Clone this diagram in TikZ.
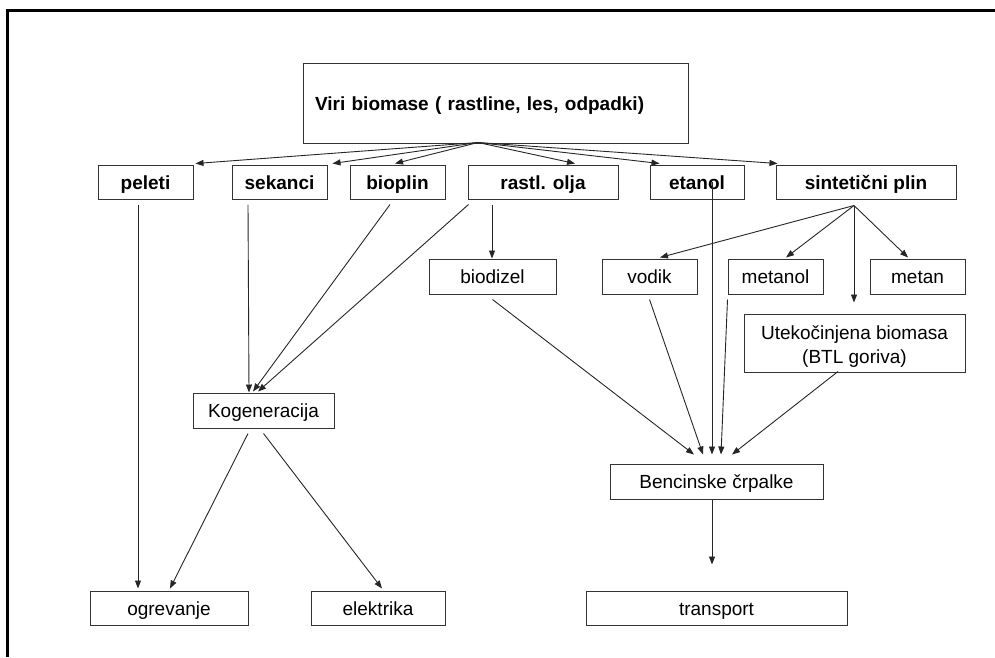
\documentclass[tikz,border=0pt]{standalone}
\usepackage{fontspec}
\setmainfont{Liberation Sans}
\usetikzlibrary{arrows.meta}
\begin{document}
\begin{tikzpicture}[x=1pt,y=-1pt,
  box/.style={draw=black!80,line width=1pt,inner sep=0pt,text height=14pt,text depth=0pt,font=\fontsize{19}{22}\selectfont},
  bbox/.style={box,font=\fontsize{19}{22}\selectfont\bfseries},
  conn/.style={draw=black!85,line width=0.9pt,-{Triangle[length=8pt,width=6pt]}}]
\useasboundingbox (0,0) rectangle (995,657);
% frame
\draw[line width=3pt] (7,657) -- (7,10) -- (995,10);
% nodes
\node[bbox,minimum width=385,minimum height=80,text width=361,align=left] (top) at (495.5,103) {Viri biomase ( rastline, les, odpadki)};
\node[bbox,minimum width=95,minimum height=34] (peleti) at (145.5,182) {peleti};
\node[bbox,minimum width=95,minimum height=34] (sekanci) at (279.5,182) {sekanci};
\node[bbox,minimum width=95,minimum height=34] (bioplin) at (397.5,182) {bioplin};
\node[bbox,minimum width=150,minimum height=34] (rastl) at (543,182) {rastl. olja};
\node[bbox,minimum width=94,minimum height=34] (etanol) at (697,182) {etanol};
\node[bbox,minimum width=180,minimum height=34] (sint) at (866,182) {sintetični plin};
\node[box,minimum width=127,minimum height=35] (biodizel) at (492.5,276.5) {biodizel};
\node[box,minimum width=95,minimum height=35] (vodik) at (649.5,276.5) {vodik};
\node[box,minimum width=95,minimum height=35] (metanol) at (775.5,276.5) {metanol};
\node[box,minimum width=95,minimum height=35] (metan) at (917.5,276.5) {metan};
\node[box,minimum width=221,minimum height=58,align=center,text height=40pt,text depth=0pt] (utek) at (854.5,343) {Utekočinjena biomasa\\[2pt](BTL goriva)};
\node[box,minimum width=141,minimum height=35] (kog) at (263.5,410.5) {Kogeneracija};
\node[box,minimum width=213,minimum height=35] (benc) at (716.5,481.5) {Bencinske črpalke};
\node[box,minimum width=158,minimum height=34] (ogr) at (169,608) {ogrevanje};
\node[box,minimum width=134,minimum height=34] (elek) at (378,608) {elektrika};
\node[box,minimum width=261,minimum height=34] (transport) at (716.5,608) {transport};
% connectors from the top box
\draw[conn] ([xshift=-17.5pt,yshift=1pt]top.south) -- ([xshift=2pt,yshift=1pt]peleti.north east);
\draw[conn] ([xshift=-17.5pt,yshift=1pt]top.south) -- ([xshift=5pt,yshift=1pt]sekanci.north east);
\draw[conn] ([xshift=-17.5pt,yshift=1pt]top.south) -- ([xshift=-2.5pt,yshift=1pt]bioplin.north);
\draw[conn] ([xshift=-17.5pt,yshift=1pt]top.south) -- ([xshift=32pt,yshift=1pt]rastl.north);
\draw[conn] ([xshift=-17.5pt,yshift=1pt]top.south) -- ([xshift=10pt,yshift=1pt]etanol.north west);
\draw[conn] ([xshift=-17.5pt,yshift=1pt]top.south) -- ([xshift=2pt,yshift=1pt]sint.north west);
% left part
\draw[conn] ([xshift=-7.5pt,yshift=-5pt]peleti.south) -- ([xshift=-31pt,yshift=2pt]ogr.north);
\draw[conn] ([xshift=-31.5pt,yshift=-5pt]sekanci.south) -- ([xshift=-14.5pt,yshift=0pt]kog.north);
\draw[conn] ([xshift=-7.5pt,yshift=-5pt]bioplin.south) -- ([xshift=-10.5pt,yshift=1pt]kog.north);
\draw[conn] ([xshift=1pt,yshift=-5pt]rastl.south west) -- ([xshift=-5.5pt,yshift=1pt]kog.north);
\draw[conn] ([xshift=-51pt,yshift=-5pt]rastl.south) -- ([xshift=-0.5pt]biodizel.north);
\draw[conn] ([xshift=-15.5pt,yshift=-5pt]kog.south) -- ([xshift=1pt,yshift=2pt]ogr.north);
\draw[conn] ([yshift=-5pt]kog.south) -- ([xshift=4pt,yshift=2pt]elek.north);
% synthetic gas
\draw[conn] ([xshift=-12pt,yshift=-6pt]sint.south) -- ([xshift=10.5pt,yshift=1pt]vodik.north);
\draw[conn] ([xshift=-12pt,yshift=-6pt]sint.south) -- ([xshift=10.5pt,yshift=1pt]metanol.north);
\draw[conn] ([xshift=-12pt,yshift=-6pt]sint.south) -- ([xshift=-9.5pt,yshift=1pt]metan.north);
\draw[conn] ([xshift=-12pt,yshift=-6pt]sint.south) -- ([xshift=-0.5pt,yshift=11pt]utek.north);
% to the petrol stations
\draw[conn] ([xshift=15pt]etanol.center) -- ([xshift=-4.5pt,yshift=9pt]benc.north);
\draw[conn] ([yshift=-5pt]biodizel.south) -- ([xshift=-22.5pt,yshift=9pt]benc.north);
\draw[conn] ([yshift=-5pt]vodik.south) -- ([xshift=-13.5pt,yshift=9pt]benc.north);
\draw[conn] ([yshift=-5pt]metanol.south west) -- ([xshift=4.5pt,yshift=9pt]benc.north);
\draw[conn] ([xshift=-16.5pt,yshift=1pt]utek.south) -- ([xshift=15.5pt,yshift=9pt]benc.north);
\draw[conn] ([xshift=-4.5pt]benc.south) -- ([xshift=-4.5pt,yshift=26pt]transport.north);
\end{tikzpicture}
\end{document}
